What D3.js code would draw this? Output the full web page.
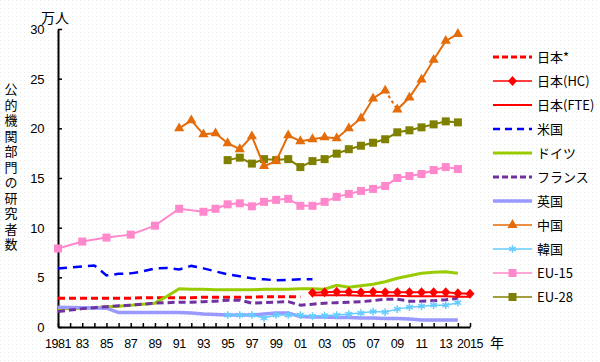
<!DOCTYPE html>
<html>
<head>
<meta charset="utf-8">
<script src="https://cdn.jsdelivr.net/npm/d3@7"></script>
<style>
  body { margin: 0; background: #fff; }
  svg { display: block; }
  text { font-family: "Liberation Sans", Arial, "Noto Sans CJK JP", sans-serif; }
  .jp { font-family: "Noto Sans CJK JP", sans-serif; }
</style>
</head>
<body>
<div id="chart"></div>
<script>
// data, 万人, one value per year starting at the given start year
var japanStarStart = 1981;
var japanStar = [2.9, 2.9, 2.9, 2.9, 2.9, 2.9, 2.9, 2.95, 2.95, 2.95, 2.95, 2.95, 3.0, 3.0, 3.0, 3.0, 3.0, 3.05, 3.05, 3.05, 3.05];
var japanHCStart = 2002;
var japanHC = [3.45, 3.5, 3.55, 3.55, 3.5, 3.55, 3.5, 3.5, 3.5, 3.5, 3.5, 3.5, 3.4, 3.35];
var japanFTEStart = 2002;
var japanFTE = [3.2, 3.2, 3.2, 3.2, 3.15, 3.15, 3.15, 3.15, 3.1, 3.1, 3.1, 3.1, 3.05, 3.05];
var usStart = 1981;
var us = [5.9, 6.0, 6.1, 6.2, 5.2, 5.35, 5.4, 5.6, 5.9, 5.95, 5.8, 6.15, 5.9, 5.6, 5.3, 5.1, 4.9, 4.8, 4.7, 4.75, 4.8, 4.8];
var germanyStart = 1981;
var germany = [1.8, 1.85, 1.9, 1.95, 2.05, 2.1, 2.2, 2.3, 2.4, 3.1, 3.85, 3.8, 3.8, 3.75, 3.75, 3.75, 3.75, 3.8, 3.8, 3.8, 3.85, 3.85, 3.8, 4.2, 4.0, 4.15, 4.3, 4.55, 4.9, 5.15, 5.4, 5.5, 5.55, 5.4];
var franceStart = 1981;
var france = [1.55, 1.7, 1.85, 1.95, 2.05, 2.15, 2.2, 2.3, 2.4, 2.45, 2.5, 2.5, 2.55, 2.6, 2.7, 2.7, 2.4, 2.45, 2.5, 2.55, 2.2, 2.3, 2.4, 2.45, 2.5, 2.55, 2.65, 2.8, 2.8, 2.6, 2.6, 2.65, 2.75, 2.9];
var ukStart = 1981;
var uk = [2.0, 1.97, 1.95, 1.92, 1.9, 1.45, 1.45, 1.45, 1.45, 1.45, 1.45, 1.4, 1.3, 1.25, 1.2, 1.2, 1.2, 1.3, 1.4, 1.4, 1.05, 1.0, 1.0, 0.95, 0.95, 0.9, 0.9, 0.85, 0.85, 0.8, 0.7, 0.7, 0.7, 0.7];
var chinaStart = 1991;
var china = [20.0, 20.8, 19.4, 19.5, 18.5, 17.9, 19.2, 16.2, 16.7, 19.3, 18.7, 18.9, 19.1, 19.0, 20.0, 21.0, 23.0, 23.8, 21.9, 23.1, 24.9, 26.9, 28.8, 29.5];
var chinaBreakYear = 2008; // segment 2008-2009 drawn dashed
var koreaStart = 1995;
var korea = [1.2, 1.2, 1.2, 0.9, 1.2, 1.2, 1.2, 1.1, 1.15, 1.2, 1.3, 1.4, 1.55, 1.5, 1.8, 2.0, 2.1, 2.2, 2.2, 2.45];
var eu15Years = [1981, 1983, 1985, 1987, 1989, 1991, 1993, 1994, 1995, 1996, 1997, 1998, 1999, 2000, 2001, 2002, 2003, 2004, 2005, 2006, 2007, 2008, 2009, 2010, 2011, 2012, 2013, 2014];
var eu15 = [7.9, 8.6, 9.0, 9.3, 10.2, 11.9, 11.6, 11.9, 12.35, 12.45, 12.15, 12.6, 12.8, 12.9, 12.2, 12.2, 12.6, 13.1, 13.4, 13.7, 13.9, 14.2, 15.0, 15.2, 15.4, 15.8, 16.1, 15.9];
var eu28Start = 1995;
var eu28 = [16.8, 17.05, 16.45, 16.9, 16.8, 16.9, 16.1, 16.7, 16.9, 17.45, 17.9, 18.25, 18.55, 18.9, 19.6, 19.8, 20.1, 20.4, 20.7, 20.6];

var yTicks = [0, 5, 10, 15, 20, 25, 30];
var xLabelYears = d3.range(1981, 2016, 2);
var legendNames = ["日本*", "日本(HC)", "日本(FTE)", "米国", "ドイツ", "フランス", "英国", "中国", "韓国", "EU-15", "EU-28"];
var yTitle = "公的機関部門の研究者数";

function fromStart(start, vals) {
    return vals.map(function (v, i) { return { year: start + i, value: v }; });
}

var series = [
    { name: "日本*", data: fromStart(japanStarStart, japanStar), color: "#ff0000", width: 3, dash: "7,4" },
    { name: "ドイツ", data: fromStart(germanyStart, germany), color: "#99cc00", width: 3 },
    { name: "英国", data: fromStart(ukStart, uk), color: "#9999ff", width: 3.5 },
    { name: "フランス", data: fromStart(franceStart, france), color: "#7030a0", width: 3, dash: "7,4" },
    { name: "米国", data: fromStart(usStart, us), color: "#0000ff", width: 2.5, dash: "9,6" },
    { name: "韓国", data: fromStart(koreaStart, korea), color: "#66ccff", width: 1.5, marker: "star" },
    { name: "EU-15", data: eu15Years.map(function (y, i) { return { year: y, value: eu15[i] }; }), color: "#ff88cc", width: 2, marker: "square" },
    { name: "EU-28", data: fromStart(eu28Start, eu28), color: "#808000", width: 2, marker: "square" },
    { name: "中国", data: fromStart(chinaStart, china), color: "#e46c0a", width: 2, marker: "triangle", breakYear: chinaBreakYear },
    { name: "日本(FTE)", data: fromStart(japanFTEStart, japanFTE), color: "#ff0000", width: 2 },
    { name: "日本(HC)", data: fromStart(japanHCStart, japanHC), color: "#ff0000", width: 2, marker: "diamond" }
];

var width = 600, height = 362;

var svg = d3.select("#chart")
    .append("svg")
    .attr("width", width)
    .attr("height", height);

// faint dotted background
var defs = svg.append("defs");
var pat = defs.append("pattern")
    .attr("id", "dots")
    .attr("width", 4).attr("height", 4)
    .attr("patternUnits", "userSpaceOnUse");
pat.append("rect").attr("width", 4).attr("height", 4).attr("fill", "#ffffff");
pat.append("rect").attr("x", 0).attr("y", 0).attr("width", 1).attr("height", 1).attr("fill", "#e8ece8");
svg.append("rect").attr("width", width).attr("height", height).attr("fill", "url(#dots)");

var x = d3.scaleLinear().domain([1981, 2015]).range([58, 470]);
var y = d3.scaleLinear().domain([0, 30]).range([327, 29]);

// axes
var yAxis = svg.append("g")
    .attr("transform", "translate(58,0)")
    .call(d3.axisRight(y).tickValues(yTicks).tickSize(4).tickSizeOuter(0).tickFormat(""));
yAxis.select(".domain").attr("stroke-width", 2);
yAxis.selectAll(".tick line").attr("stroke-width", 1.5);

var xAxis = svg.append("g")
    .attr("transform", "translate(0,327)")
    .call(d3.axisTop(x).tickValues(d3.range(1981, 2016)).tickSize(4).tickSizeOuter(0).tickFormat(""));
xAxis.select(".domain").attr("stroke-width", 2);
xAxis.selectAll(".tick line").attr("stroke-width", 1.5);

svg.append("g").selectAll("text")
    .data(yTicks)
    .join("text")
    .attr("x", 44)
    .attr("y", d => y(d) + 5)
    .attr("text-anchor", "end")
    .attr("font-size", 13)
    .attr("letter-spacing", -0.4)
    .text(d => d);

svg.append("g").selectAll("text")
    .data(xLabelYears)
    .join("text")
    .attr("x", d => x(d))
    .attr("y", 348)
    .attr("text-anchor", "middle")
    .attr("font-size", 12.5)
    .attr("letter-spacing", -0.5)
    .text(d => (d === 1981 || d === 2015) ? d : String(d % 100).padStart(2, "0"));

svg.append("text").attr("class", "jp")
    .attr("x", 55).attr("y", 23)
    .attr("text-anchor", "middle")
    .attr("font-size", 14)
    .text("万人");

svg.append("text").attr("class", "jp")
    .attr("x", 497).attr("y", 348)
    .attr("text-anchor", "middle")
    .attr("font-size", 14)
    .text("年");

// vertical axis title, one text element in vertical writing mode
svg.append("text")
    .attr("class", "jp")
    .attr("x", 11)
    .attr("y", 83)
    .attr("writing-mode", "vertical-rl")
    .attr("font-size", 13)
    .attr("letter-spacing", 2.5)
    .text(yTitle);

var line = d3.line().x(d => x(d.year)).y(d => y(d.value));

function drawMarker(g, type, color, cx, cy) {
    if (type === "square") {
        g.append("rect").attr("x", cx - 4).attr("y", cy - 4).attr("width", 8).attr("height", 8).attr("fill", color);
    } else if (type === "triangle") {
        g.append("path").attr("transform", "translate(" + cx + "," + cy + ")")
            .attr("d", d3.symbol().type(d3.symbolTriangle).size(45)()).attr("fill", color);
    } else if (type === "diamond") {
        g.append("path").attr("transform", "translate(" + cx + "," + cy + ")")
            .attr("d", "M0,-5L4.5,0L0,5L-4.5,0Z").attr("fill", color);
    } else if (type === "star") {
        g.append("path").attr("transform", "translate(" + cx + "," + cy + ")")
            .attr("d", d3.symbol().type(d3.symbolAsterisk).size(40)())
            .attr("fill", "none").attr("stroke", color).attr("stroke-width", 1.5);
    }
}

var plot = svg.append("g");
series.forEach(function (s) {
    var g = plot.append("g");
    if (s.breakYear) {
        var a = s.data.filter(d => d.year <= s.breakYear);
        var b = s.data.filter(d => d.year >= s.breakYear + 1);
        var mid = s.data.filter(d => d.year === s.breakYear || d.year === s.breakYear + 1);
        [a, b].forEach(function (part) {
            g.append("path").datum(part).attr("d", line)
                .attr("fill", "none").attr("stroke", s.color).attr("stroke-width", s.width);
        });
        g.append("path").datum(mid).attr("d", line)
            .attr("fill", "none").attr("stroke", s.color).attr("stroke-width", s.width)
            .attr("stroke-dasharray", "3,3");
    } else {
        g.append("path").datum(s.data).attr("d", line)
            .attr("fill", "none").attr("stroke", s.color).attr("stroke-width", s.width)
            .attr("stroke-dasharray", s.dash || null);
    }
    if (s.marker) {
        s.data.forEach(function (d) { drawMarker(g, s.marker, s.color, x(d.year), y(d.value)); });
    }
});

// legend
var byName = {};
series.forEach(s => byName[s.name] = s);
var legend = svg.append("g");
legendNames.forEach(function (name, i) {
    var s = byName[name];
    var ly = 57 + i * 24;
    var lg = legend.append("g");
    lg.append("line").attr("x1", 493).attr("x2", 532).attr("y1", ly).attr("y2", ly)
        .attr("stroke", s.color)
        .attr("stroke-width", s.marker ? 1.5 : s.width)
        .attr("stroke-dasharray", s.dash ? (s.name === "米国" ? "7,5" : "6,3") : null);
    if (s.marker) drawMarker(lg, s.marker, s.color, 512.5, ly);
    lg.append("text").attr("class", "jp")
        .attr("x", 537).attr("y", ly + 5)
        .attr("font-size", 13)
        .text(name);
});
</script>
</body>
</html>
